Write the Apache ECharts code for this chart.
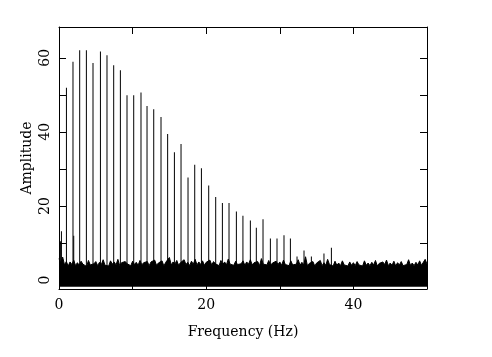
<!DOCTYPE html>
<html><head><meta charset="utf-8">
<script src="https://cdn.jsdelivr.net/npm/echarts@6/dist/echarts.min.js"></script>
<style>html,body{margin:0;padding:0;background:#fff}#c{width:492px;height:357px}</style>
</head><body><div id="c"></div>
<script>
// Harmonic spikes (Hz, amplitude)
const spikeFreq = [0.19, 0.33, 1.01, 1.90, 2.00, 2.81, 3.72, 4.62, 5.63, 6.52, 7.43, 8.34, 9.24, 10.15, 11.14, 11.96, 12.87, 13.86, 14.76, 15.68, 16.58, 17.53, 18.44, 19.35, 20.34, 21.29, 22.20, 23.10, 24.10, 24.99, 26.00, 26.81, 27.72, 28.72, 29.62, 30.57, 31.44, 32.34, 33.29, 34.29, 36.00, 37.01];
const spikeAmp  = [10.5, 13.2, 51.9, 58.9, 12.0, 62.0, 62.0, 58.6, 61.7, 60.7, 58.0, 56.6, 49.9, 49.9, 50.6, 47.0, 46.1, 44.0, 39.4, 34.5, 36.7, 27.7, 31.1, 30.2, 25.5, 22.4, 20.8, 20.8, 18.5, 17.4, 16.1, 14.1, 16.4, 11.2, 11.2, 12.1, 11.2, 6.4, 8.0, 6.4, 7.2, 8.7];
// Noise floor upper envelope, sampled every 0.25 Hz from 0 to 50 Hz
const noiseStep = 0.25;
const noiseAmp = [
 5.8, 4.6, 6.2, 4.1, 5.0, 3.8, 4.9, 4.2, 5.4, 3.9, 4.7, 4.0, 5.1, 4.3, 4.8, 3.7, 5.3, 4.1, 4.6, 4.4,
 5.0, 3.9, 4.8, 4.2, 5.5, 4.0, 4.5, 3.8, 5.2, 4.3, 4.9, 4.1, 5.6, 3.9, 4.7, 4.2, 5.0, 4.4, 4.6, 3.9,
 5.1, 4.2, 4.8, 4.0, 5.3, 4.1, 4.7, 4.3, 5.0, 3.9, 4.9, 4.4, 5.4, 4.0, 4.6, 4.2, 5.2, 3.8, 4.8, 4.3,
 6.1, 4.1, 4.9, 4.3, 5.3, 4.0, 4.7, 4.4, 5.5, 4.2, 4.8, 3.9, 5.1, 4.3, 5.6, 4.1, 4.9, 4.2, 5.2, 4.0,
 4.8, 4.3, 5.4, 4.1, 5.0, 4.4, 4.7, 3.9, 5.3, 4.2, 4.9, 4.1, 5.7, 4.3, 4.8, 4.0, 5.1, 4.2, 4.6, 4.4,
 5.2, 4.0, 4.9, 4.3, 5.5, 4.1, 4.7, 4.2, 5.0, 3.9, 5.8, 4.3, 4.8, 4.1, 5.3, 4.0, 4.6, 4.4, 5.1, 4.2,
 4.9, 4.0, 5.4, 4.2, 4.7, 3.9, 5.2, 4.1, 4.6, 4.3, 5.5, 4.0, 4.8, 4.1, 6.3, 3.9, 4.5, 4.2, 5.0, 3.8,
 4.6, 4.1, 5.3, 3.9, 4.7, 4.0, 5.6, 4.2, 4.4, 3.8, 5.1, 4.0, 4.6, 3.9, 5.2, 4.1, 4.5, 3.8, 4.9, 4.0,
 4.7, 3.9, 5.0, 4.1, 4.4, 3.8, 5.2, 4.0, 4.6, 3.9, 4.8, 4.1, 5.3, 3.8, 4.5, 4.0, 4.9, 4.2, 5.4, 3.9,
 4.6, 4.0, 5.1, 3.8, 4.7, 4.1, 5.0, 3.9, 4.4, 4.2, 5.5, 4.0, 4.6, 3.9, 4.8, 4.1, 5.2, 4.0, 4.5, 5.6, 4.3
];
const noiseBase = -1.8;
const xTicks = [0, 10, 20, 30, 40, 50];
const xLabels = [0, 20, 40];
const yTicks = [0, 10, 20, 30, 40, 50, 60];
const yLabels = [0, 20, 40, 60];

const FONT = 'DejaVu Serif';
const black = '#000';
function axisCommon(extra) {
  return Object.assign({
    type: 'value',
    axisLine: { show: true, onZero: false, lineStyle: { color: black, width: 1 } },
    splitLine: { show: false },
  }, extra);
}
const chart = echarts.init(document.getElementById('c'), null, { renderer: 'canvas' });
chart.setOption({
  animation: false,
  backgroundColor: '#fff',
  grid: { left: 59, right: 65, top: 27, bottom: 68, show: false },
  xAxis: [
    axisCommon({
      min: 0, max: 50, position: 'bottom',
      name: 'Frequency (Hz)', nameLocation: 'middle', nameGap: 36, nameMoveOverlap: false,
      nameTextStyle: { fontFamily: FONT, fontSize: 14, color: black },
      axisTick: { show: true, inside: true, length: 7, customValues: xTicks, lineStyle: { color: black } },
      axisLabel: { customValues: xLabels, margin: 9, fontFamily: FONT, fontSize: 14, color: black }
    }),
    axisCommon({
      min: 0, max: 50, position: 'top',
      axisTick: { show: true, inside: true, length: 7, customValues: xTicks, lineStyle: { color: black } },
      axisLabel: { show: false }
    })
  ],
  yAxis: [
    axisCommon({
      min: -2.4, max: 68.3, position: 'left',
      name: 'Amplitude', nameLocation: 'middle', nameGap: 25, nameRotate: 90, nameMoveOverlap: false,
      nameTextStyle: { fontFamily: FONT, fontSize: 14, color: black },
      axisTick: { show: true, inside: true, length: 7, customValues: yTicks, lineStyle: { color: black } },
      axisLabel: { customValues: yLabels, rotate: 90, margin: 7, fontFamily: FONT, fontSize: 14, color: black }
    }),
    axisCommon({
      min: -2.4, max: 68.3, position: 'right',
      axisTick: { show: true, inside: true, length: 7, customValues: yTicks, lineStyle: { color: black } },
      axisLabel: { show: false }
    })
  ],
  series: [
    {
      type: 'line', xAxisIndex: 0, yAxisIndex: 0,
      data: noiseAmp.map((v, i) => [i * noiseStep, v]),
      symbol: 'none', silent: true,
      lineStyle: { color: black, width: 1 },
      areaStyle: { color: black, opacity: 1, origin: noiseBase }
    },
    {
      type: 'bar', xAxisIndex: 0, yAxisIndex: 0,
      data: spikeFreq.map((f, i) => [f, spikeAmp[i]]),
      barWidth: 1, itemStyle: { color: black }, silent: true
    }
  ]
});
</script>
</body></html>
